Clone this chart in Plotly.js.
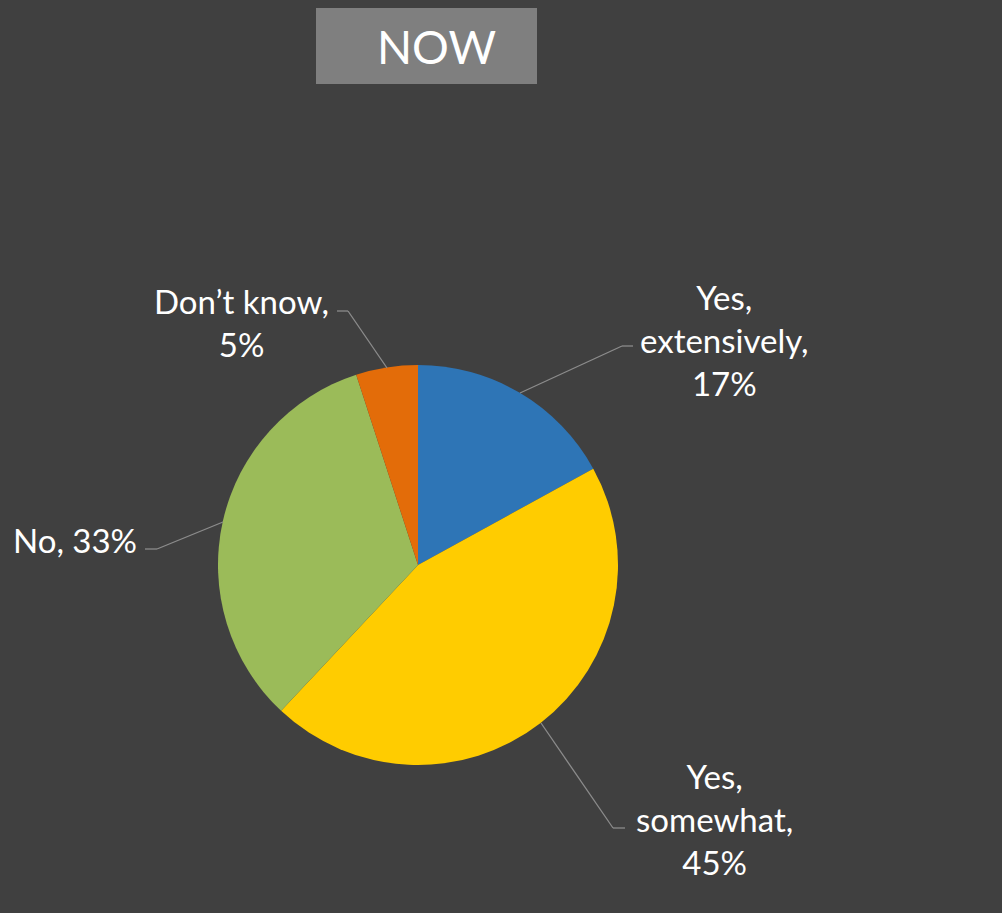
<!DOCTYPE html>
<html>
<head>
<meta charset="utf-8">
<script src="https://cdn.plot.ly/plotly-3.0.1.min.js"></script>
<style>html,body{margin:0;padding:0;background:#404040;}#chart{width:1002px;height:913px;}</style>
</head>
<body>
<div id="chart"></div>
<script>
// Data
const categories = ["Yes, extensively", "Yes, somewhat", "No", "Don\u2019t know"];
const values = [17, 45, 33, 5];
const colors = ["#2E75B6", "#FFCC00", "#9BBB59", "#E36C09"];
const wrapLabel = [true, true, false, true];
const chartTitle = "NOW";

const W = 1002, H = 913;
const px = x => x / W;
const py = y => 1 - y / H;

// label positions (layout)
const labelPos = [
  {x: 724, y: 340, anchor: "center"},
  {x: 714, y: 819, anchor: "center"},
  {x: 139, y: 540, anchor: "right"},
  {x: 241, y: 322, anchor: "center"}
];
// leader lines (layout): [x0,y0,x1,y1,x2,y2]
const leaders = [
  [633, 346, 622, 346, 520, 393],
  [625, 828, 613, 828, 541, 723],
  [145, 549, 157, 549, 223, 522],
  [337, 311, 348, 311, 387, 368]
];

function labelText(i) {
  let name = categories[i];
  if (wrapLabel[i]) {
    name = name.replace(", ", ",<br>");
    return name + ",<br>" + values[i] + "%";
  }
  return name + ", " + values[i] + "%";
}

const trace = {
  type: "pie",
  labels: categories,
  values: values,
  sort: false,
  direction: "clockwise",
  rotation: 0,
  marker: {colors: colors, line: {width: 0}},
  textinfo: "none",
  hoverinfo: "skip",
  showlegend: false,
  domain: {x: [px(218), px(618)], y: [py(765), py(365)]}
};

const annotations = categories.map((c, i) => ({
  xref: "paper", yref: "paper",
  x: px(labelPos[i].x), y: py(labelPos[i].y),
  xanchor: labelPos[i].anchor, yanchor: "middle",
  align: "center",
  text: labelText(i),
  showarrow: false,
  font: {family: "Lato, 'Open Sans', sans-serif", size: 33, color: "#FFFFFF"}
}));

const shapes = [{
  type: "rect", xref: "paper", yref: "paper",
  x0: px(316), x1: px(537), y0: py(84), y1: py(8),
  fillcolor: "#7F7F7F", line: {width: 0}, layer: "below"
}];
leaders.forEach(l => {
  shapes.push({type: "line", xref: "paper", yref: "paper",
    x0: px(l[0]), y0: py(l[1]), x1: px(l[2]), y1: py(l[3]),
    line: {color: "#8C8C8C", width: 1.3}});
  shapes.push({type: "line", xref: "paper", yref: "paper",
    x0: px(l[2]), y0: py(l[3]), x1: px(l[4]), y1: py(l[5]),
    line: {color: "#8C8C8C", width: 1.3}});
});

annotations.push({
  xref: "paper", yref: "paper",
  x: px(436), y: py(46), xanchor: "center", yanchor: "middle",
  text: chartTitle, showarrow: false,
  font: {family: "Lato, 'Open Sans', sans-serif", size: 46, color: "#FFFFFF"}
});

const layout = {
  width: W, height: H,
  paper_bgcolor: "#404040",
  plot_bgcolor: "#404040",
  margin: {l: 0, r: 0, t: 0, b: 0},
  annotations: annotations,
  shapes: shapes,
  showlegend: false
};

Plotly.newPlot("chart", [trace], layout, {displayModeBar: false, staticPlot: true});
</script>
</body>
</html>
